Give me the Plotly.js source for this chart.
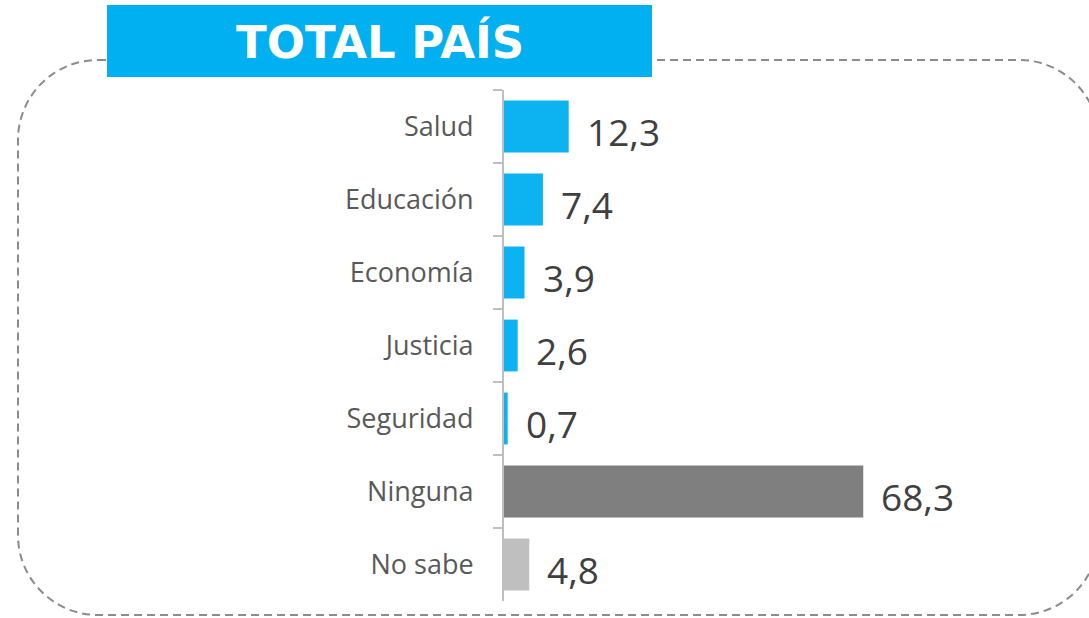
<!DOCTYPE html>
<html>
<head>
<meta charset="utf-8">
<script src="https://cdn.plot.ly/plotly-3.0.1.min.js"></script>
<style>html,body{margin:0;padding:0;background:#fff;}#chart{width:1089px;height:618px;}</style>
</head>
<body>
<div id="chart"></div>
<script>
const categories = ["Salud", "Educación", "Economía", "Justicia", "Seguridad", "Ninguna", "No sabe"];
const values = [12.3, 7.4, 3.9, 2.6, 0.7, 68.3, 4.8];
const barColors = ["#0DB2F0", "#0DB2F0", "#0DB2F0", "#0DB2F0", "#0DB2F0", "#7F7F7F", "#BFBFBF"];
const valueLabels = values.map(v => v.toFixed(1).replace(".", ","));
const titleText = "TOTAL PAÍS";

const Wpx = 1089, Hpx = 618;
const M = {l: 504, r: 9, t: 90, b: 17};
const PW = Wpx - M.l - M.r, PH = Hpx - M.t - M.b;
const px = x => (x - M.l) / PW;
const py = y => 1 - (y - M.t) / PH;

// rounded dashed frame (pixel geometry -> paper coords)
function roundedRectPath(x0, y0, x1, y1, R) {
  const k = 0.5523 * R;
  const P = (x, y) => px(x).toFixed(5) + "," + py(y).toFixed(5);
  return "M" + P(x0 + R, y0) +
    " L" + P(x1 - R, y0) +
    " C" + P(x1 - R + k, y0) + " " + P(x1, y0 + R - k) + " " + P(x1, y0 + R) +
    " L" + P(x1, y1 - R) +
    " C" + P(x1, y1 - R + k) + " " + P(x1 - R + k, y1) + " " + P(x1 - R, y1) +
    " L" + P(x0 + R, y1) +
    " C" + P(x0 + R - k, y1) + " " + P(x0, y1 - R + k) + " " + P(x0, y1 - R) +
    " L" + P(x0, y0 + R) +
    " C" + P(x0, y0 + R - k) + " " + P(x0 + R - k, y0) + " " + P(x0 + R, y0) + " Z";
}

const trace = {
  type: "bar",
  orientation: "h",
  y: categories,
  x: values,
  marker: {color: barColors},
  hoverinfo: "none",
  width: 0.71
};

const annotations = categories.map((c, i) => ({
  x: values[i], y: c, xref: "x", yref: "y",
  text: valueLabels[i], showarrow: false,
  xanchor: "left", yanchor: "middle",
  xshift: 16, yshift: -5,
  font: {family: "Open Sans, sans-serif", size: 37, color: "#404040"}
}));
annotations.push({
  x: px(380), y: py(42), xref: "paper", yref: "paper",
  text: "<b>" + titleText + "</b>", showarrow: false,
  xanchor: "center", yanchor: "middle",
  font: {family: "DejaVu Sans, sans-serif", size: 45, color: "#FFFFFF"}
});

const layout = {
  width: Wpx, height: Hpx,
  margin: M,
  paper_bgcolor: "#FFFFFF", plot_bgcolor: "#FFFFFF",
  showlegend: false,
  bargap: 0.29,
  xaxis: {range: [0, PW / 5.26], visible: false, showgrid: false, zeroline: false, fixedrange: true},
  yaxis: {
    type: "category", autorange: "reversed",
    showline: true, linecolor: "#BFBFBF", linewidth: 2,
    ticks: "outside", tickson: "boundaries", ticklen: 9, tickcolor: "#BFBFBF", tickwidth: 2,
    ticklabelstandoff: 23,
    tickfont: {family: "Open Sans, sans-serif", size: 27, color: "#595959"},
    showgrid: false, zeroline: false, fixedrange: true
  },
  shapes: [
    {type: "path", xref: "paper", yref: "paper", layer: "above",
     path: roundedRectPath(18, 60, 1099, 615, 80),
     line: {color: "#8C8C8C", width: 2, dash: "8px,5px"}, fillcolor: "rgba(0,0,0,0)"},
    {type: "rect", xref: "paper", yref: "paper", layer: "above",
     x0: px(107), x1: px(652), y0: py(77), y1: py(5),
     line: {width: 0}, fillcolor: "#00B0F0"}
  ],
  annotations: annotations
};

Plotly.newPlot("chart", [trace], layout, {displayModeBar: false, staticPlot: true});
</script>
</body>
</html>
